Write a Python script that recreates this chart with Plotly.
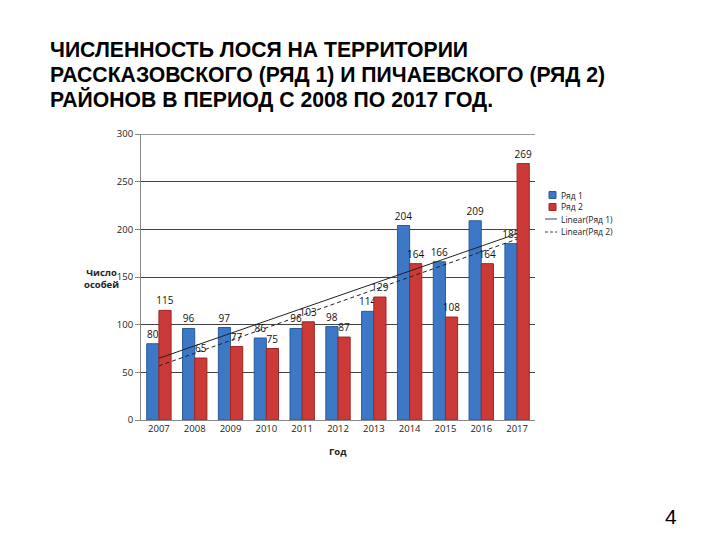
import numpy as np
import plotly.graph_objects as go

years = ["2007", "2008", "2009", "2010", "2011", "2012", "2013", "2014", "2015", "2016", "2017"]
series1 = [80, 96, 97, 86, 96, 98, 114, 204, 166, 209, 185]
series2 = [115, 65, 77, 75, 103, 87, 129, 164, 108, 164, 269]
y_ticks = [0, 50, 100, 150, 200, 250, 300]
legend_names = ["Ряд 1", "Ряд 2", "Linear(Ряд 1)", "Linear(Ряд 2)"]
title_lines = [
    "ЧИСЛЕННОСТЬ ЛОСЯ НА ТЕРРИТОРИИ",
    "РАССКАЗОВСКОГО (РЯД 1) И ПИЧАЕВСКОГО (РЯД 2)",
    "РАЙОНОВ В ПЕРИОД С 2008 ПО 2017 ГОД.",
]

BLUE, BLUE_EDGE = "#3C78C6", "#2B5A96"
RED, RED_EDGE = "#CC3A37", "#9A2826"

xi = np.arange(len(years))
k1, b1 = np.polyfit(xi, series1, 1)
k2, b2 = np.polyfit(xi, series2, 1)
trend1 = list(k1 * xi + b1)
trend2 = list(k2 * xi + b2)

W, H = 720, 540
def px(x):
    return x / W
def py(y):
    return 1 - y / H

lbl_font = dict(size=10, color="#111", family="Open Sans")

fig = go.Figure()
fig.add_trace(go.Bar(
    x=years, y=series1, name=legend_names[0],
    marker=dict(color=BLUE, line=dict(color=BLUE_EDGE, width=1)),
    text=[str(v) for v in series1], textposition="outside", cliponaxis=False,
    constraintext="none", textfont=lbl_font,
))
fig.add_trace(go.Bar(
    x=years, y=series2, name=legend_names[1],
    marker=dict(color=RED, line=dict(color=RED_EDGE, width=1)),
    text=[str(v) for v in series2], textposition="outside", cliponaxis=False,
    constraintext="none", textfont=lbl_font,
))
fig.add_trace(go.Scatter(
    x=years, y=trend1, mode="lines", name=legend_names[2],
    line=dict(color="#222", width=1),
))
fig.add_trace(go.Scatter(
    x=years, y=trend2, mode="lines", name=legend_names[3],
    line=dict(color="#222", width=1, dash="4px,3px"),
))

fig.update_layout(
    width=W, height=H,
    margin=dict(l=0, r=0, t=0, b=0),
    paper_bgcolor="white", plot_bgcolor="white",
    barmode="group", bargap=0.32, bargroupgap=0,
    showlegend=False,
    xaxis=dict(domain=[px(141), px(535)], showgrid=False, showline=True, automargin=False,
               linecolor="#888", linewidth=1, ticks="",
               tickfont=dict(size=9.5, family="Open Sans", color="#222")),
    yaxis=dict(domain=[py(420), py(134)], range=[0, 300], tickvals=y_ticks, automargin=False,
               showgrid=True, gridcolor="#444", gridwidth=1, showline=True,
               linecolor="#888", linewidth=1, ticks="outside", ticklen=5, tickcolor="#888",
               tickfont=dict(size=9.5, family="Open Sans", color="#222"), zeroline=False),
    font=dict(family="Open Sans"),
)

fig.add_shape(type="line", xref="paper", yref="y", x0=px(141), x1=px(535), y0=300, y1=300,
              line=dict(color="#999", width=2))

# Legend (drawn manually to match compact spacing)
leg_y = [195, 207, 219, 232]
for i, name in enumerate(legend_names):
    yc = py(leg_y[i])
    if i < 2:
        fill, edge = (BLUE, BLUE_EDGE) if i == 0 else (RED, RED_EDGE)
        fig.add_shape(type="rect", xref="paper", yref="paper",
                      x0=px(549), x1=px(556), y0=yc - 3.5 / H, y1=yc + 3.5 / H,
                      fillcolor=fill, line=dict(color=edge, width=1))
    else:
        fig.add_shape(type="line", xref="paper", yref="paper",
                      x0=px(545), x1=px(557), y0=yc, y1=yc,
                      line=dict(color="#444", width=1, dash="solid" if i == 2 else "3px,2px"))
    fig.add_annotation(text=name, xref="paper", yref="paper", x=px(559), y=yc,
                       xanchor="left", yanchor="middle", showarrow=False,
                       font=dict(size=8.5, color="#222", family="Open Sans"))

title_y = [50, 74.5, 99]
for line, ty in zip(title_lines, title_y):
    fig.add_annotation(
        text=line, xref="paper", yref="paper", x=px(48), y=py(ty),
        xanchor="left", yanchor="middle", showarrow=False, align="left",
        font=dict(size=21.2, family="Liberation Sans", color="black", weight="bold"),
    )
fig.add_annotation(text="Число<br>особей", xref="paper", yref="paper", x=px(101), y=py(278),
                   xanchor="center", yanchor="middle",
                   showarrow=False, font=dict(size=9.5, color="#222", weight="bold"), align="center")
fig.add_annotation(text="Год", xref="paper", yref="paper", x=px(338), y=py(451),
                   xanchor="center", yanchor="middle",
                   showarrow=False, font=dict(size=9.5, color="#222", weight="bold"))
fig.add_annotation(text="4", xref="paper", yref="paper", x=px(671), y=py(516.5),
                   xanchor="center", yanchor="middle",
                   showarrow=False, font=dict(size=21, color="black", family="Liberation Sans"))

fig.write_html("out.html", config={"displayModeBar": False},
               post_script="document.body.style.margin='0';document.body.style.padding='0';")
